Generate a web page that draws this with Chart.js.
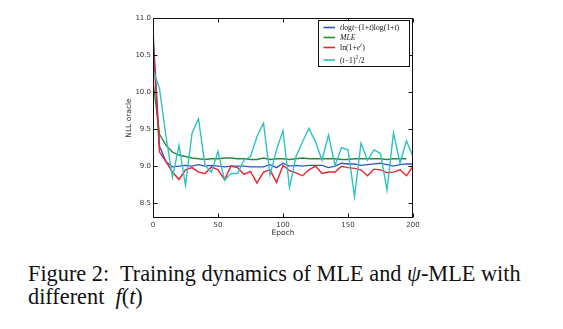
<!DOCTYPE html>
<html>
<head>
<meta charset="utf-8">
<script src="https://cdn.jsdelivr.net/npm/chart.js@4/dist/chart.umd.min.js"></script>
<style>
  html, body { margin: 0; padding: 0; background: #fff; width: 563px; height: 329px; overflow: hidden; }
  #wrap { position: relative; width: 563px; height: 329px; }
  #c { position: absolute; left: 0; top: 0; }
  .cap {
    position: absolute; left: 28px; top: 262px;
    font-family: "Liberation Serif", "DejaVu Serif", serif;
    font-size: 22.3px; line-height: 23px; color: #111; white-space: nowrap;
  }
</style>
</head>
<body>
<div id="wrap">
  <canvas id="c" width="563" height="245"></canvas>
  <div class="cap">Figure 2:&nbsp; Training dynamics of MLE and <i>ψ</i>-MLE with<br>different&nbsp; <i>f</i>(<i>t</i>)</div>
</div>
<script>
// Epochs at which the NLL oracle was evaluated
const epochs = [0, 5, 10, 15, 20, 25, 30, 35, 40, 45, 50, 55, 60, 65, 70, 75, 80, 85, 90, 95, 100,
                105, 110, 115, 120, 125, 130, 135, 140, 145, 150, 155, 160, 165, 170, 175, 180, 185, 190, 195, 200];

// NLL oracle per f(t)
const tlogtValues = [10.82, 9.27, 9.06, 8.99, 9.00, 9.01, 9.00, 9.02, 9.00, 9.01, 9.00,
                     8.99, 9.00, 9.00, 9.00, 8.99, 8.99, 8.99, 9.02, 8.98, 9.04,
                     9.00, 9.01, 9.00, 9.01, 9.01, 9.01, 8.98, 9.00, 9.04, 9.03,
                     9.03, 9.01, 9.02, 9.03, 9.04, 9.02, 9.00, 9.02, 9.03, 9.03];
const mleValues = [10.15, 9.43, 9.28, 9.19, 9.15, 9.13, 9.11, 9.10, 9.09, 9.10, 9.10,
                   9.11, 9.11, 9.10, 9.10, 9.09, 9.09, 9.11, 9.09, 9.10, 9.10,
                   9.09, 9.10, 9.11, 9.10, 9.10, 9.10, 9.10, 9.10, 9.09, 9.09,
                   9.10, 9.10, 9.10, 9.10, 9.10, 9.09, 9.10, 9.10, 9.10];
const softplusValues = [10.70, 9.19, 9.06, 8.92, 8.82, 8.95, 8.98, 8.92, 8.90, 8.99, 8.95,
                        8.82, 9.00, 8.98, 8.89, 8.93, 8.77, 8.92, 8.95, 8.78, 9.01,
                        8.94, 8.91, 8.87, 8.95, 9.00, 8.90, 8.92, 8.92, 9.00, 8.98,
                        8.97, 8.95, 8.87, 8.96, 8.95, 8.91, 8.92, 8.95, 8.87, 9.00];
const squareValues = [10.30, 10.05, 9.40, 8.85, 9.28, 8.74, 9.44, 9.64, 9.01, 8.92, 9.20,
                      8.81, 8.90, 8.90, 9.08, 9.13, 9.40, 9.58, 8.88, 9.22, 9.48,
                      8.71, 9.13, 9.33, 9.51, 9.33, 9.08, 9.42, 9.01, 9.25, 9.22,
                      8.59, 9.31, 9.08, 9.22, 9.17, 8.68, 9.45, 9.04, 9.34, 9.13];

// Axis ticks
const xTicks = [0, 50, 100, 150, 200];
const yTicks = [8.5, 9.0, 9.5, 10.0, 10.5, 11.0];

// Legend labels as rich text runs: r = roman, i = italic, sup = superscript
const legendLabels = [
  [['t', 'i'], ['log', 'r'], ['t', 'i'], ['−(1+', 'r'], ['t', 'i'], [')log(1+', 'r'], ['t', 'i'], [')', 'r']],
  [['MLE', 'i']],
  [['ln(1+', 'r'], ['e', 'i'], ['t', 'sup'], [')', 'r']],
  [['(', 'r'], ['t', 'i'], ['−1)', 'r'], ['2', 'sup'], ['/2', 'r']]
];
const seriesColors = ['#2f55c4', '#2a8a3c', '#f0202c', '#2fc2c2'];
const seriesValues = [tlogtValues, mleValues, softplusValues, squareValues];

const toPoints = vals => vals.map((v, i) => ({ x: epochs[i], y: v }));
const plainText = runs => runs.map(r => r[0]).join('');

const datasets = seriesValues.map((vals, k) => ({
  label: plainText(legendLabels[k]),
  data: toPoints(vals),
  borderColor: seriesColors[k],
  backgroundColor: seriesColors[k],
  borderWidth: 1.4,
  pointRadius: 0,
  tension: 0,
  fill: false,
  order: seriesValues.length - k   // later series drawn on top
}));

// Black frame with inward tick marks on all four sides
const frameTicks = {
  id: 'frameTicks',
  afterDatasetsDraw(chart) {
    const { ctx, chartArea: a, scales: { x, y } } = chart;
    const L = Math.round(a.left) + 0.5, R = Math.round(a.right) - 0.5;
    const T = Math.round(a.top) + 0.5, B = Math.round(a.bottom) - 0.5;
    ctx.save();
    ctx.strokeStyle = '#111';
    ctx.lineWidth = 1;
    ctx.strokeRect(L, T, R - L, B - T);
    ctx.beginPath();
    const len = 4;
    xTicks.forEach(v => {
      const px = Math.round(x.getPixelForValue(v)) + 0.5;
      ctx.moveTo(px, B); ctx.lineTo(px, B - len);
      ctx.moveTo(px, T); ctx.lineTo(px, T + len);
    });
    yTicks.forEach(v => {
      const py = Math.round(y.getPixelForValue(v)) + 0.5;
      ctx.moveTo(L, py); ctx.lineTo(L + len, py);
      ctx.moveTo(R, py); ctx.lineTo(R - len, py);
    });
    ctx.stroke();
    ctx.restore();
  }
};

// Boxed legend in the upper right corner of the plot
const boxLegend = {
  id: 'boxLegend',
  afterDraw(chart) {
    const { ctx, chartArea: a } = chart;
    const family = '"Liberation Serif", "DejaVu Serif", serif';
    const size = 7.7, supSize = 5.3;
    const bx = Math.round(a.right) - 95 + 0.5, by = Math.round(a.top) + 2.5;
    const bw = 91, bh = 46;
    const rowY = [7, 17, 27, 39.5];
    ctx.save();
    ctx.fillStyle = '#fff';
    ctx.fillRect(bx, by, bw, bh);
    ctx.strokeStyle = '#111';
    ctx.lineWidth = 1;
    ctx.strokeRect(bx, by, bw, bh);
    legendLabels.forEach((runs, k) => {
      const cy = by + rowY[k];
      ctx.strokeStyle = seriesColors[k];
      ctx.lineWidth = 1.6;
      ctx.beginPath();
      ctx.moveTo(bx + 5, cy); ctx.lineTo(bx + 16.5, cy);
      ctx.stroke();
      let tx = bx + 21.5;
      ctx.fillStyle = '#111';
      ctx.textBaseline = 'alphabetic';
      runs.forEach(([txt, st]) => {
        if (st === 'sup') {
          ctx.font = (/\d/.test(txt) ? '' : 'italic ') + `${supSize}px ${family}`;
          ctx.fillText(txt, tx, cy + 2.6 - 3.6);
        } else {
          ctx.font = (st === 'i' ? 'italic ' : '') + `${size}px ${family}`;
          ctx.fillText(txt, tx, cy + 2.6);
        }
        tx += ctx.measureText(txt).width + (st === 'sup' ? 0.6 : 0);
      });
    });
    ctx.restore();
  }
};

const tickFont = { family: '"DejaVu Sans", sans-serif', size: 7 };

new Chart(document.getElementById('c'), {
  type: 'line',
  data: { datasets },
  options: {
    responsive: false,
    animation: false,
    devicePixelRatio: 1,
    layout: { padding: { left: 122, top: 18, right: 150, bottom: 0 } },
    plugins: { legend: { display: false }, tooltip: { enabled: false } },
    scales: {
      x: {
        type: 'linear', min: 0, max: 200,
        grid: { display: false, drawTicks: false },
        border: { display: false },
        afterBuildTicks: s => { s.ticks = xTicks.map(v => ({ value: v })); },
        afterFit: s => { s.height = 27; },
        ticks: { font: tickFont, color: '#333', padding: 3, maxRotation: 0, callback: v => String(v) },
        title: { display: true, text: 'Epoch', font: { family: '"DejaVu Sans", sans-serif', size: 7.5 }, color: '#333', padding: { top: 0, bottom: 7.5 } }
      },
      y: {
        min: 8.3, max: 11.0,
        grid: { display: false, drawTicks: false },
        border: { display: false },
        afterBuildTicks: s => { s.ticks = yTicks.map(v => ({ value: v })); },
        afterFit: s => { s.width = 31; },
        ticks: { font: tickFont, color: '#333', padding: 2, callback: v => Number(v).toFixed(1) },
        title: { display: true, text: 'NLL oracle', font: { family: '"DejaVu Sans", sans-serif', size: 7.5 }, color: '#333', padding: { top: 3, bottom: 0 } }
      }
    }
  },
  plugins: [frameTicks, boxLegend]
});
</script>
</body>
</html>
